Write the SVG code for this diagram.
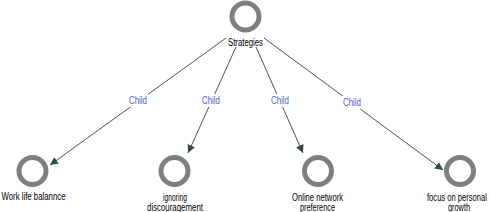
<svg xmlns="http://www.w3.org/2000/svg" width="491" height="212" viewBox="0 0 491 212">
<style>
.node circle{fill:none;stroke:#7f7f7f;stroke-width:5}
.node text{font-family:"Liberation Sans",Arial,sans-serif;font-size:10px;fill:#000;text-anchor:middle}
.edge line{stroke:#3d5a57;stroke-width:1}
.lbl rect{fill:#fff}
.lbl text{font-family:"Liberation Sans",Arial,sans-serif;font-size:10px;fill:#4a62c4;text-anchor:middle}
</style>
<defs>
<marker id="arr" viewBox="0 0 10 10" refX="10" refY="5" markerWidth="8" markerHeight="8" markerUnits="userSpaceOnUse" orient="auto">
<path d="M0,0 L10,5 L0,10 z" fill="#2f4a48"/>
</marker>
</defs>
<rect width="491" height="212" fill="#fff"/>
<g id="connectors">
<g class="edge"><line x1="226" y1="38" x2="50" y2="165" marker-end="url(#arr)"/></g>
<g class="edge"><line x1="236" y1="47" x2="188" y2="153" marker-end="url(#arr)"/></g>
<g class="edge"><line x1="256" y1="47" x2="303" y2="153" marker-end="url(#arr)"/></g>
<g class="edge"><line x1="264" y1="38" x2="443" y2="170" marker-end="url(#arr)"/></g>
<g class="lbl"><rect x="128" y="94" width="20" height="13"/><text x="138" y="104" textLength="18" lengthAdjust="spacingAndGlyphs">Child</text></g>
<g class="lbl"><rect x="201" y="94" width="20" height="13"/><text x="211" y="104" textLength="18" lengthAdjust="spacingAndGlyphs">Child</text></g>
<g class="lbl"><rect x="270" y="94" width="20" height="13"/><text x="280" y="104" textLength="18" lengthAdjust="spacingAndGlyphs">Child</text></g>
<g class="lbl"><rect x="342" y="96" width="20" height="13"/><text x="352" y="106" textLength="18" lengthAdjust="spacingAndGlyphs">Child</text></g>
</g>
<g id="strategies" class="node"><circle cx="245.5" cy="16.5" r="13.5"/><text x="245.5" y="46" textLength="35" lengthAdjust="spacingAndGlyphs">Strategies</text></g>
<g id="work" class="node"><circle cx="32.5" cy="171" r="13.5"/><text x="33.5" y="200" textLength="64" lengthAdjust="spacingAndGlyphs">Work life balannce</text></g>
<g id="ignoring" class="node"><circle cx="174.5" cy="171" r="13.5"/><text x="175" y="201" textLength="24" lengthAdjust="spacingAndGlyphs">ignoring</text><text x="175" y="210.5" textLength="56" lengthAdjust="spacingAndGlyphs">discouragement</text></g>
<g id="online" class="node"><circle cx="318" cy="171" r="13.5"/><text x="317.5" y="201" textLength="51" lengthAdjust="spacingAndGlyphs">Online network</text><text x="317.5" y="210.5" textLength="35" lengthAdjust="spacingAndGlyphs">preference</text></g>
<g id="focus" class="node"><circle cx="460" cy="171" r="13.5"/><text x="457" y="201" textLength="60" lengthAdjust="spacingAndGlyphs">focus on personal</text><text x="459" y="210.5" textLength="22" lengthAdjust="spacingAndGlyphs">growth</text></g>
</svg>
